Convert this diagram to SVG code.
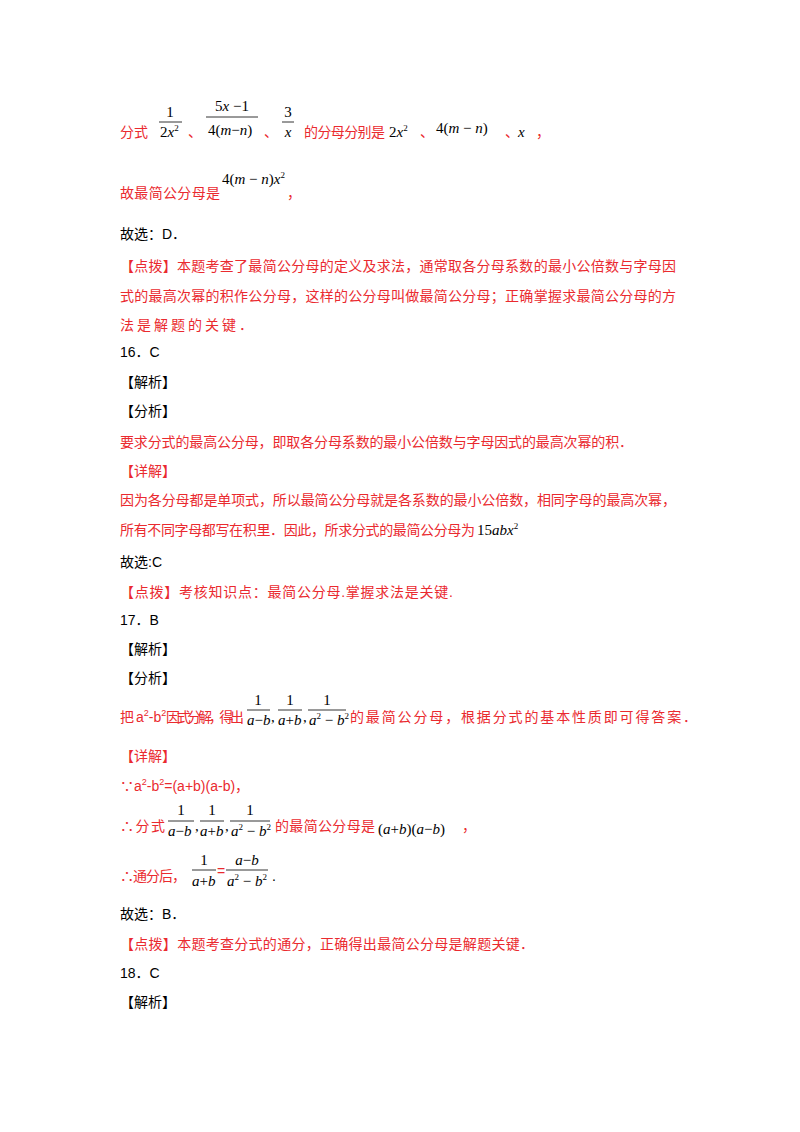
<svg xmlns="http://www.w3.org/2000/svg" width="800" height="1132" viewBox="0 0 800 1132">
<style>
text{font-family:"Liberation Sans","Noto Sans CJK SC",sans-serif;font-size:14px}
.r{fill:#ea2a2f}.k{fill:#000}
.m{font-family:"Liberation Serif",serif;font-size:15px;fill:#000}
.i{font-style:italic}
.s{font-size:9px}
line{stroke:#000;stroke-width:0.8}
</style>
<rect width="800" height="1132" fill="#fff"/>
<!-- line 1 -->
<text x="120" y="137" class="r" textLength="28">分式</text>
<text x="170" y="117" class="m" text-anchor="middle">1</text><line x1="159" y1="122" x2="182" y2="122"/>
<text x="160" y="137" class="m">2<tspan class="i">x</tspan><tspan class="s" dy="-6">2</tspan></text>
<text x="188" y="137" class="r">、</text>
<text x="232" y="111" class="m" text-anchor="middle">5<tspan class="i">x</tspan> −1</text><line x1="206" y1="117" x2="258" y2="117"/>
<text x="208" y="135" class="m">4(<tspan class="i">m</tspan>−<tspan class="i">n</tspan>)</text>
<text x="264" y="137" class="r">、</text>
<text x="288" y="117" class="m" text-anchor="middle">3</text><line x1="282" y1="122" x2="294" y2="122"/>
<text x="288" y="137" class="m i" text-anchor="middle">x</text>
<text x="304" y="137" class="r" textLength="81">的分母分别是</text>
<text x="389" y="137" class="m">2<tspan class="i">x</tspan><tspan class="s" dy="-6">2</tspan></text>
<text x="420" y="137" class="r">、</text>
<text x="436" y="133" class="m">4(<tspan class="i">m</tspan> − <tspan class="i">n</tspan>)</text>
<text x="505" y="137" class="r">、</text>
<text x="518" y="137" class="m i">x</text>
<text x="536" y="137" class="r">，</text>
<!-- line 2 -->
<text x="120" y="198" class="r" textLength="100">故最简公分母是</text>
<text x="222" y="184" class="m">4(<tspan class="i">m</tspan> − <tspan class="i">n</tspan>)<tspan class="i">x</tspan><tspan class="s" dy="-6">2</tspan></text>
<text x="287" y="198" class="r">，</text>
<text x="120" y="239" class="k">故选：D．</text>
<text x="120" y="271" class="r" textLength="556">【点拨】本题考查了最简公分母的定义及求法，通常取各分母系数的最小公倍数与字母因</text>
<text x="120" y="301" class="r" textLength="556">式的最高次幂的积作公分母，这样的公分母叫做最简公分母；正确掌握求最简公分母的方</text>
<text x="120" y="330" class="r" textLength="133">法是解题的关键．</text>
<text x="120" y="357" class="k">16．C</text>
<text x="120" y="387" class="k">【解析】</text>
<text x="120" y="416" class="k">【分析】</text>
<text x="120" y="447" class="r" textLength="513">要求分式的最高公分母，即取各分母系数的最小公倍数与字母因式的最高次幂的积．</text>
<text x="120" y="476" class="r">【详解】</text>
<text x="120" y="505" class="r" textLength="556">因为各分母都是单项式，所以最简公分母就是各系数的最小公倍数，相同字母的最高次幂，</text>
<text x="120" y="535" class="r" textLength="355">所有不同字母都写在积里．因此，所求分式的最简公分母为</text>
<text x="477" y="535" class="m">15<tspan class="i">abx</tspan><tspan class="s" dy="-6">2</tspan></text>
<text x="120" y="567" class="k">故选:C</text>
<text x="120" y="597" class="r" textLength="333">【点拨】考核知识点：最简公分母.掌握求法是关键.</text>
<text x="120" y="625" class="k">17．B</text>
<text x="120" y="654" class="k">【解析】</text>
<text x="120" y="683" class="k">【分析】</text>
<!-- 把 line -->
<text x="120" y="722" class="r">把</text>
<text x="136" y="722" class="r" font-size="12">a<tspan class="s" font-size="8" dy="-6">2</tspan><tspan dy="6">-b</tspan><tspan class="s" font-size="8" dy="-6">2</tspan></text>
<text x="166" y="722" class="r" textLength="78">因式分解，得出</text>
<text x="258" y="705" class="m" text-anchor="middle">1</text><line x1="247" y1="710" x2="270" y2="710"/>
<text x="247" y="725" class="m i">a<tspan font-style="normal">−</tspan>b</text>
<text x="271" y="722" class="m">,</text>
<text x="290" y="705" class="m" text-anchor="middle">1</text><line x1="278" y1="710" x2="302" y2="710"/>
<text x="278" y="725" class="m i">a<tspan font-style="normal">+</tspan>b</text>
<text x="303" y="722" class="m">,</text>
<text x="327" y="705" class="m" text-anchor="middle">1</text><line x1="308" y1="710" x2="346" y2="710"/>
<text x="309" y="725" class="m i">a<tspan class="s" font-style="normal" dy="-6">2</tspan><tspan font-style="normal" dy="6"> − </tspan>b<tspan class="s" font-style="normal" dy="-6">2</tspan></text>
<text x="350" y="722" class="r" textLength="347">的最简公分母，根据分式的基本性质即可得答案．</text>
<text x="120" y="761" class="r">【详解】</text>
<text x="120" y="791" class="r">∵a<tspan class="s" dy="-6">2</tspan><tspan dy="6">-b</tspan><tspan class="s" dy="-6">2</tspan><tspan dy="6">=(a+b)(a-b)，</tspan></text>
<!-- ∴ 分式 -->
<text x="120" y="831" class="r" textLength="45">∴分式</text>
<text x="181" y="815" class="m" text-anchor="middle">1</text><line x1="168" y1="821" x2="194" y2="821"/>
<text x="168" y="836" class="m i">a<tspan font-style="normal">−</tspan>b</text>
<text x="195" y="831" class="m">,</text>
<text x="212" y="815" class="m" text-anchor="middle">1</text><line x1="200" y1="821" x2="224" y2="821"/>
<text x="200" y="836" class="m i">a<tspan font-style="normal">+</tspan>b</text>
<text x="225" y="831" class="m">,</text>
<text x="250" y="815" class="m" text-anchor="middle">1</text><line x1="230" y1="821" x2="270" y2="821"/>
<text x="231" y="836" class="m i">a<tspan class="s" font-style="normal" dy="-6">2</tspan><tspan font-style="normal" dy="6"> − </tspan>b<tspan class="s" font-style="normal" dy="-6">2</tspan></text>
<text x="275" y="831" class="r" textLength="100">的最简公分母是</text>
<text x="378" y="834" class="m">(<tspan class="i">a</tspan>+<tspan class="i">b</tspan>)(<tspan class="i">a</tspan>−<tspan class="i">b</tspan>)</text>
<text x="462" y="831" class="r">，</text>
<!-- ∴ 通分后 -->
<text x="120" y="881" class="r" textLength="66">∴通分后，</text>
<text x="204" y="865" class="m" text-anchor="middle">1</text><line x1="192" y1="870" x2="216" y2="870"/>
<text x="192" y="886" class="m i">a<tspan font-style="normal">+</tspan>b</text>
<text x="217" y="876" class="r">=</text>
<text x="247" y="865" class="m i" text-anchor="middle">a<tspan font-style="normal">−</tspan>b</text><line x1="226" y1="870" x2="268" y2="870"/>
<text x="227" y="886" class="m i">a<tspan class="s" font-style="normal" dy="-6">2</tspan><tspan font-style="normal" dy="6"> − </tspan>b<tspan class="s" font-style="normal" dy="-6">2</tspan></text>
<text x="272" y="881" class="k">.</text>
<text x="120" y="919" class="k">故选：B．</text>
<text x="120" y="949" class="r" textLength="414">【点拨】本题考查分式的通分，正确得出最简公分母是解题关键．</text>
<text x="120" y="978" class="k">18．C</text>
<text x="120" y="1007" class="k">【解析】</text>
</svg>
